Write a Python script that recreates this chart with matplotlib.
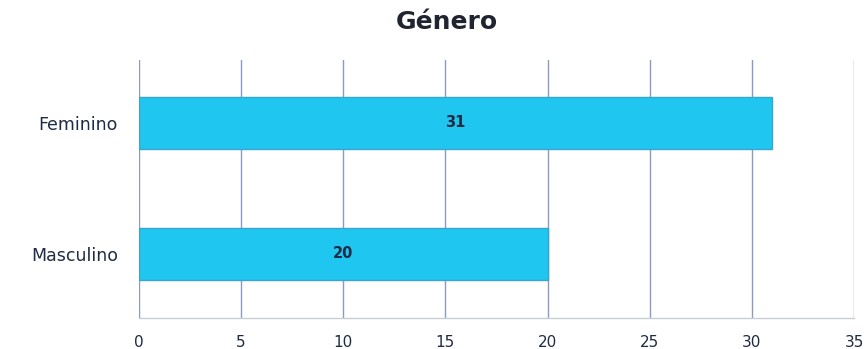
import matplotlib.pyplot as plt

# Datos: número de personas por género
categorias = ['Masculino', 'Femenino']
etiquetas = ['Masculino', 'Feminino']
valores = [20, 31]
ticks_x = [0, 5, 10, 15, 20, 25, 30, 35]

plt.rcParams['font.family'] = ['DejaVu Sans']

fig = plt.figure(figsize=(8.68, 3.49), dpi=100)
ax = fig.add_axes([0.160, 0.089, 0.824, 0.739])

pos = list(range(len(categorias)))
barras = ax.barh(pos, valores, height=0.40, color='#1ec6f0',
                 edgecolor='#3aa6cf', linewidth=1.0, zorder=3)

# Etiquetas de valor en el centro de cada barra
for p, v in zip(pos, valores):
    ax.text(v / 2, p, str(v), ha='center', va='center', fontsize=10.5,
            fontweight='bold', color='#1f2a44', zorder=4)

ax.set_xlim(0, 35)
ax.set_ylim(-0.49, 1.48)
ax.set_xticks(ticks_x)
ax.set_yticks(pos)
ax.set_yticklabels(etiquetas, fontsize=12.5)

# Rejilla vertical
ax.grid(axis='x', color='#8c9bbd', linewidth=1.0, zorder=0)
ax.set_axisbelow(True)

for lado in ['top', 'right', 'left']:
    ax.spines[lado].set_visible(False)
ax.spines['bottom'].set_color('#c8ccd4')
ax.spines['bottom'].set_linewidth(1.0)

ax.tick_params(axis='both', length=0, colors='#1f2a44')
ax.tick_params(axis='x', labelsize=11, pad=12)
ax.tick_params(axis='y', pad=15)

fig.suptitle('Género', x=0.515, y=0.97, fontsize=18, fontweight='bold',
             color='#1f2430')

plt.savefig('out.png', dpi=100)
